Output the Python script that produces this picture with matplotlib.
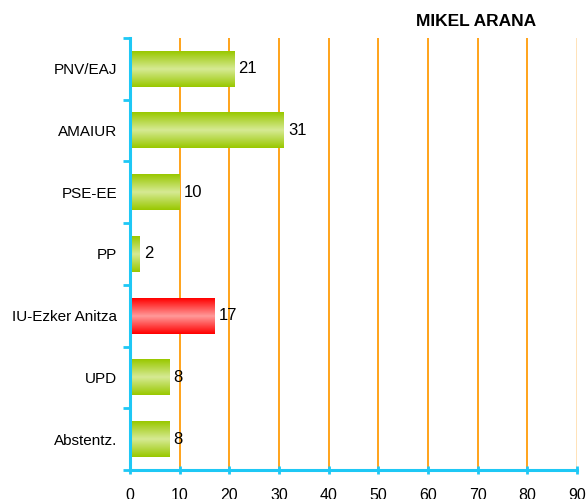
import numpy as np
import matplotlib.pyplot as plt
from matplotlib.colors import LinearSegmentedColormap

categories = ["PNV/EAJ", "AMAIUR", "PSE-EE", "PP", "IU-Ezker Anitza", "UPD", "Abstentz."]
values = [21, 31, 10, 2, 17, 8, 8]
highlight = "IU-Ezker Anitza"
title = "MIKEL ARANA"
xticks = list(range(0, 91, 10))

plt.rcParams["font.family"] = ["Liberation Sans", "DejaVu Sans"]

green = LinearSegmentedColormap.from_list("g", ["#99c800", "#d6ea94", "#99c800"])
red = LinearSegmentedColormap.from_list("r", ["#ff0000", "#ff9a9a", "#ff0000"])
grad = np.linspace(0, 1, 100).reshape(-1, 1)

fig = plt.figure(figsize=(5.88, 4.99), dpi=100)
ax = fig.add_axes([0.221, 0.058, 0.760, 0.866])

cyan = "#1ec8f5"
orange = "#ffa31a"

for x in xticks[1:-1]:
    ax.axvline(x, color=orange, lw=1.4, zorder=0)
ax.axvline(90, color="#ffe2b8", lw=1.4, zorder=0)

h = 0.58
for i, (cat, v) in enumerate(zip(categories, values)):
    cmap = red if cat == highlight else green
    ax.imshow(grad, cmap=cmap, extent=(0, v, i + h / 2, i - h / 2),
              aspect="auto", zorder=2, interpolation="bilinear")
    ax.text(v + 0.8, i, str(v), va="center", ha="left", fontsize=12, zorder=3)

ax.set_xlim(0, 90)
ax.set_ylim(len(categories) - 0.5, -0.5)

ax.set_yticks(range(len(categories)))
ax.set_yticklabels(categories, fontsize=11)
ax.set_yticks(np.arange(-0.5, len(categories), 1), minor=True)
ax.tick_params(axis="y", which="major", length=0, pad=9)
ax.tick_params(axis="y", which="minor", length=5, width=2, color=cyan, direction="out")

ax.set_xticks(xticks)
ax.set_xticklabels([str(t) for t in xticks], fontsize=11.5)
ax.tick_params(axis="x", length=6, width=2, color=cyan, direction="inout", pad=10)

for s in ["top", "right"]:
    ax.spines[s].set_visible(False)
for s in ["left", "bottom"]:
    ax.spines[s].set_color(cyan)
    ax.spines[s].set_linewidth(2.2)

fig.text(0.81, 0.957, title, ha="center", va="center", fontsize=12.5, fontweight="bold")

fig.savefig("out.png", dpi=100)
